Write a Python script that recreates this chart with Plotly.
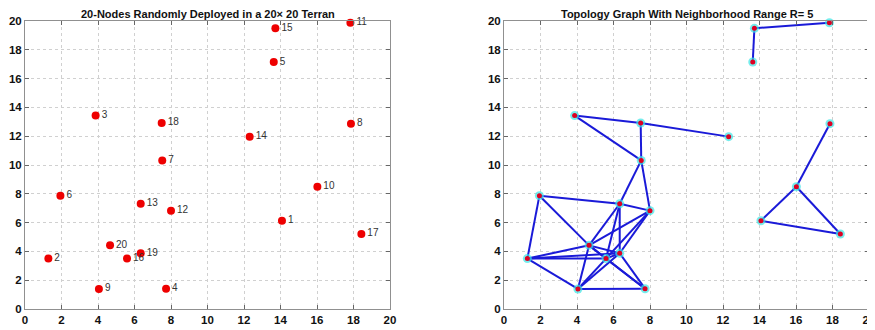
import plotly.graph_objects as go

node_ids = list(range(1, 21))
node_x = [14.08, 1.28, 3.87, 7.73, 13.63, 1.94, 7.52, 17.86, 4.05, 16.02,
          17.83, 8.00, 6.34, 12.31, 13.72, 5.59, 18.43, 7.49, 6.34, 4.66]
node_y = [6.13, 3.50, 13.43, 1.41, 17.15, 7.87, 10.32, 12.87, 1.39, 8.49,
          19.88, 6.83, 7.31, 11.97, 19.49, 3.50, 5.21, 12.92, 3.87, 4.42]

edges = [(15, 11), (15, 5),
         (3, 18), (3, 7), (18, 7), (18, 14), (7, 13), (7, 12),
         (8, 10), (10, 1), (10, 17), (1, 17),
         (6, 2), (6, 13), (6, 20), (2, 20), (2, 19), (2, 16), (2, 9),
         (20, 13), (20, 12), (20, 19), (20, 16), (20, 9), (20, 4),
         (13, 12), (13, 19), (13, 16), (12, 19), (12, 16),
         (9, 19), (9, 16), (9, 4), (19, 4), (16, 4), (16, 19)]

tick_vals = list(range(0, 21, 2))
tick_labels = [str(v) for v in tick_vals]

titles = ["20-Nodes Randomly Deployed in a 20\u00d7 20 Terran",
          "Topology Graph With Neighborhood Range R= 5"]

fig = go.Figure()

# Left: nodes with labels
fig.add_trace(go.Scatter(
    x=node_x, y=node_y, mode="markers+text",
    text=[str(i) for i in node_ids], textposition="middle right",
    textfont=dict(family="Liberation Sans, Arial", size=10, color="#333333"),
    marker=dict(color="#ee0000", size=8, line=dict(width=0)),
    xaxis="x", yaxis="y", showlegend=False, cliponaxis=False))

# Right: edges
ex, ey = [], []
for a, b in edges:
    ex += [node_x[a - 1], node_x[b - 1], None]
    ey += [node_y[a - 1], node_y[b - 1], None]
fig.add_trace(go.Scatter(
    x=ex, y=ey, mode="lines", line=dict(color="#1a1ad8", width=2),
    xaxis="x2", yaxis="y2", showlegend=False))
fig.add_trace(go.Scatter(
    x=node_x, y=node_y, mode="markers",
    marker=dict(color="rgba(60,230,230,0.7)", size=9, line=dict(width=0)),
    xaxis="x2", yaxis="y2", showlegend=False, cliponaxis=False))
fig.add_trace(go.Scatter(
    x=node_x, y=node_y, mode="markers",
    marker=dict(color="#dd0022", size=5, line=dict(width=0)),
    xaxis="x2", yaxis="y2", showlegend=False, cliponaxis=False))

# page body has an 8px margin; figure coordinates are offset accordingly
W, H = 875, 322
ml, mr, mt, mb = 17, 14, 13, 21
pw = W - ml - mr
d1 = [0, 365 / pw]
d2 = [(496 - ml) / pw, 1]

axis_common = dict(
    range=[0, 20], tickvals=tick_vals,
    ticktext=["<b>" + t + "</b>" for t in tick_labels],
    ticks="inside", ticklen=4, automargin=False,
    tickcolor="#666666", showline=True, linecolor="#909090", linewidth=1,
    mirror="ticks", showgrid=True, gridcolor="#d0d0d0", griddash="dot",
    gridwidth=1, zeroline=False,
    tickfont=dict(family="Liberation Sans, Arial", size=11.5, color="#111111"),
)

fig.update_layout(
    width=W, height=H, margin=dict(l=ml, r=mr, t=mt, b=mb, autoexpand=False),
    paper_bgcolor="white", plot_bgcolor="white",
    xaxis=dict(domain=d1, anchor="y", **axis_common),
    yaxis=dict(domain=[0, 1], anchor="x", **axis_common),
    xaxis2=dict(domain=d2, anchor="y2", **axis_common),
    yaxis2=dict(domain=[0, 1], anchor="x2", **axis_common),
    annotations=[
        dict(text="<b>" + titles[0] + "</b>", xref="paper", yref="paper",
             x=sum(d1) / 2, xanchor="center", y=1, yanchor="bottom", yshift=-1,
             showarrow=False,
             font=dict(family="Liberation Sans, Arial", size=11, color="#111111")),
        dict(text="<b>" + titles[1] + "</b>", xref="paper", yref="paper",
             x=sum(d2) / 2, xanchor="center", y=1, yanchor="bottom", yshift=-1,
             showarrow=False,
             font=dict(family="Liberation Sans, Arial", size=11, color="#111111")),
    ],
)

fig.write_html("out.html")
